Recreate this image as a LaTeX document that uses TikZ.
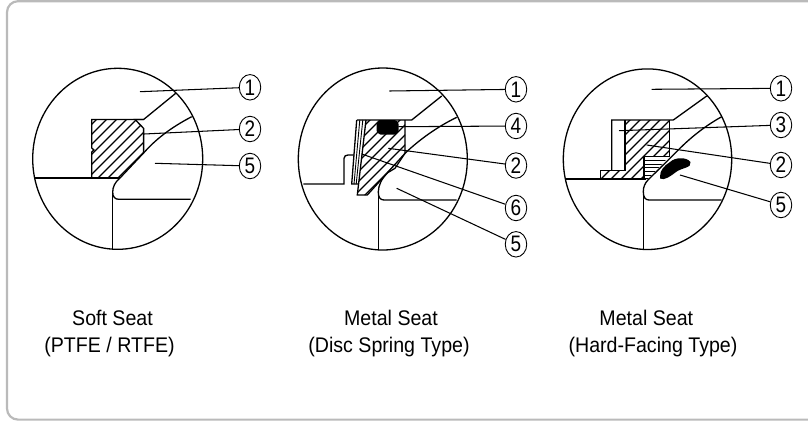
\documentclass[tikz,border=0pt]{standalone}
\usepackage{fontspec}
\setmainfont{Liberation Sans}
\usetikzlibrary{shapes.geometric}
\tikzset{
  part/.style={line width=1.3pt,black,line join=miter},
  hatchline/.style={line width=1.1pt,black},
  leader/.style={line width=1.05pt,black},
  num/.style={draw,ellipse,line width=0.9pt,minimum width=21.5pt,minimum height=25.5pt,inner sep=0pt,font=\fontsize{20}{20}\selectfont},
  lab/.style={inner sep=0pt,font=\fontsize{19.6}{22}\selectfont},
  frameline/.style={line width=2.2pt,draw=black!27}
}
\newcommand{\digitin}[1]{\scalebox{0.95}[1.12]{#1}}
\newcommand{\labelin}[1]{\scalebox{1}[1.08]{#1}}
\begin{document}
\begin{tikzpicture}[x=1pt,y=-1pt]
\useasboundingbox (0,0) rectangle (808,421);
\draw[frameline,rounded corners=11pt] (7,1.2) rectangle (830,419.6);

% ---------- Panel 1
\draw[part] (117.7,158.8) ellipse [x radius=85,y radius=90.5];
\begin{scope}
\clip (91.7,119.5) -- (135,119.5) -- (143.6,128.3) -- (143.6,153) -- (120,178) -- (91.7,178) -- cycle;
\foreach \c in {216,226,...,320} \draw[hatchline] (\c-100,100) -- (\c-200,200);
\end{scope}
\draw[part] (143.6,119.5) -- (135,119.5) -- (143.6,128.3) -- (143.6,153);
\draw[part] (175.7,93.3) -- (143.6,119.5) -- (91.7,119.5) -- (91.7,148) -- (94,150) -- (91.7,152) -- (91.7,178);
\draw[part] (35,178) -- (120,178);
\draw[part] (191.7,116.7) .. controls (170,128) and (155,140) .. (143.6,153) -- (120,178)
  .. controls (115,182) and (112.7,187) .. (112.7,192)
  .. controls (112.7,197) and (115,199.3) .. (119,199.3) -- (190.7,199.3);
\draw[part] (112.7,192) -- (112.7,249.3);
\node[num] (a1) at (250,87.3) {\digitin{1}};
\node[num] (a2) at (250,129) {\digitin{2}};
\node[num] (a5) at (250,166) {\digitin{5}};
\coordinate (a1s) at (140,91.7);
\coordinate (a2s) at (144,134);
\coordinate (a5s) at (155,163.3);
\draw[leader] (a1s) -- (a1);
\draw[leader] (a2s) -- (a2);
\draw[leader] (a5s) -- (a5);

% ---------- Panel 2
\draw[part] (382.8,159) ellipse [x radius=84.5,y radius=91];
\begin{scope}
\clip (366,120) -- (405,120) -- (405,153.3) -- (367.3,195) -- (357.3,195) -- cycle;
\foreach \c in {480,490,...,600} \draw[hatchline] (\c-100,100) -- (\c-200,200);
\end{scope}
\draw[part] (357,120) -- (411.7,120) -- (441.7,96);
\draw[part] (405,120) -- (405,153.3) -- (367.3,195) -- (357.3,195) -- (366,120);
\draw[part] (356.7,120) -- (351.7,184) -- (358.4,184);
\draw[line width=0.9pt] (359.8,120) -- (354,184);
\draw[line width=0.9pt] (362.8,120) -- (356.2,184);
\draw[part] (303.3,184) -- (344,184) -- (344,158.3) .. controls (344,156) and (346,155) .. (348,155) -- (354,155);
\draw[part] (456.7,117.3) .. controls (435,128) and (418,141) .. (405,153.3) -- (395,168.3) -- (388,172.5)
  .. controls (382,178) and (378.3,185) .. (378.3,192)
  .. controls (378.3,197) and (380,200) .. (384,200) -- (456.7,200);
\draw[part] (378.3,192) -- (378.3,249.3);
\fill[black,rounded corners=1pt] (379.5,120) -- (395.5,120) -- (398.5,123) -- (398.5,131.5) -- (395.5,134.5) -- (379.5,134.5) -- (376.5,131.5) -- (376.5,123) -- cycle;
\node[num] (b1) at (516,89.3) {\digitin{1}};
\node[num] (b4) at (516,126) {\digitin{4}};
\node[num] (b2) at (516,165.5) {\digitin{2}};
\node[num] (b6) at (516,208) {\digitin{6}};
\node[num] (b5) at (516,244.3) {\digitin{5}};
\coordinate (b1s) at (389.3,91);
\coordinate (b4s) at (398.3,126.7);
\coordinate (b2s) at (388.3,148.3);
\coordinate (b6s) at (361.7,154);
\coordinate (b5s) at (396.7,188.3);
\draw[leader] (b1s) -- (b1);
\draw[leader] (b4s) -- (b4);
\draw[leader] (b2s) -- (b2);
\draw[leader] (b6s) -- (b6);
\draw[leader] (b5s) -- (b5);

% ---------- Panel 3
\draw[part] (647.5,159.2) ellipse [x radius=84.2,y radius=90.3];
\begin{scope}
\clip (625,120) -- (669.3,120) -- (669.3,156.7) -- (644,156.7) -- (644,179) -- (600.7,179) -- (600.7,170.7) -- (625,170.7) -- cycle;
\foreach \c in {740,750,...,860} \draw[hatchline] (\c-100,100) -- (\c-200,200);
\end{scope}
\begin{scope}
\clip (644,156.7) -- (669,156.7) -- (648,179) -- (644,179) -- cycle;
\foreach \y in {160.5,164.2,...,179} \draw[line width=1.1pt] (644,\y) -- (670,\y);
\end{scope}
\draw[part] (706.7,96) -- (673.3,120) -- (611.7,120) -- (611.7,170.7);
\draw[part] (625,120) -- (625,170.7) -- (600.7,170.7) -- (600.7,179);
\draw[part] (669.3,120) -- (669.3,156.7) -- (644,156.7) -- (644,179);
\draw[part] (565,179) -- (646,179);
\draw[part] (721.7,116.7) .. controls (705,126) and (690,138) .. (678.3,150) -- (648,180)
  .. controls (645,183) and (643.3,187) .. (643.3,191.5)
  .. controls (643.3,197) and (645,200) .. (649,200) -- (721.7,200);
\draw[part] (643.3,191.5) -- (643.3,249.3);
\fill[black] (660,176.7) .. controls (660,170) and (664,166) .. (670,162)
  .. controls (675,157) and (687,157) .. (690.5,162)
  .. controls (692,168) and (682,167.5) .. (676,172)
  .. controls (671,176) and (664,181) .. (660,178.5) -- cycle;
\node[num] (c1) at (781,88.3) {\digitin{1}};
\node[num] (c3) at (781,125) {\digitin{3}};
\node[num] (c2) at (781,165) {\digitin{2}};
\node[num] (c5) at (781,205) {\digitin{5}};
\coordinate (c1s) at (651.7,89.3);
\coordinate (c3s) at (619,130.7);
\coordinate (c2s) at (646.7,145);
\coordinate (c5s) at (680,175);
\draw[leader] (c1s) -- (c1);
\draw[leader] (c3s) -- (c3);
\draw[leader] (c2s) -- (c2);
\draw[leader] (c5s) -- (c5);

% ---------- Captions
\node[lab] (t1) at (112.5,318) {\labelin{Soft Seat}};
\node[lab] (t2) at (109.5,347) {\labelin{(PTFE / RTFE)}};
\node[lab] (t3) at (391,318) {\labelin{Metal Seat}};
\node[lab] (t4) at (389,347) {\labelin{(Disc Spring Type)}};
\node[lab] (t5) at (646.3,318) {\labelin{Metal Seat}};
\node[lab] (t6) at (653,347) {\labelin{(Hard-Facing Type)}};
\end{tikzpicture}
\end{document}
